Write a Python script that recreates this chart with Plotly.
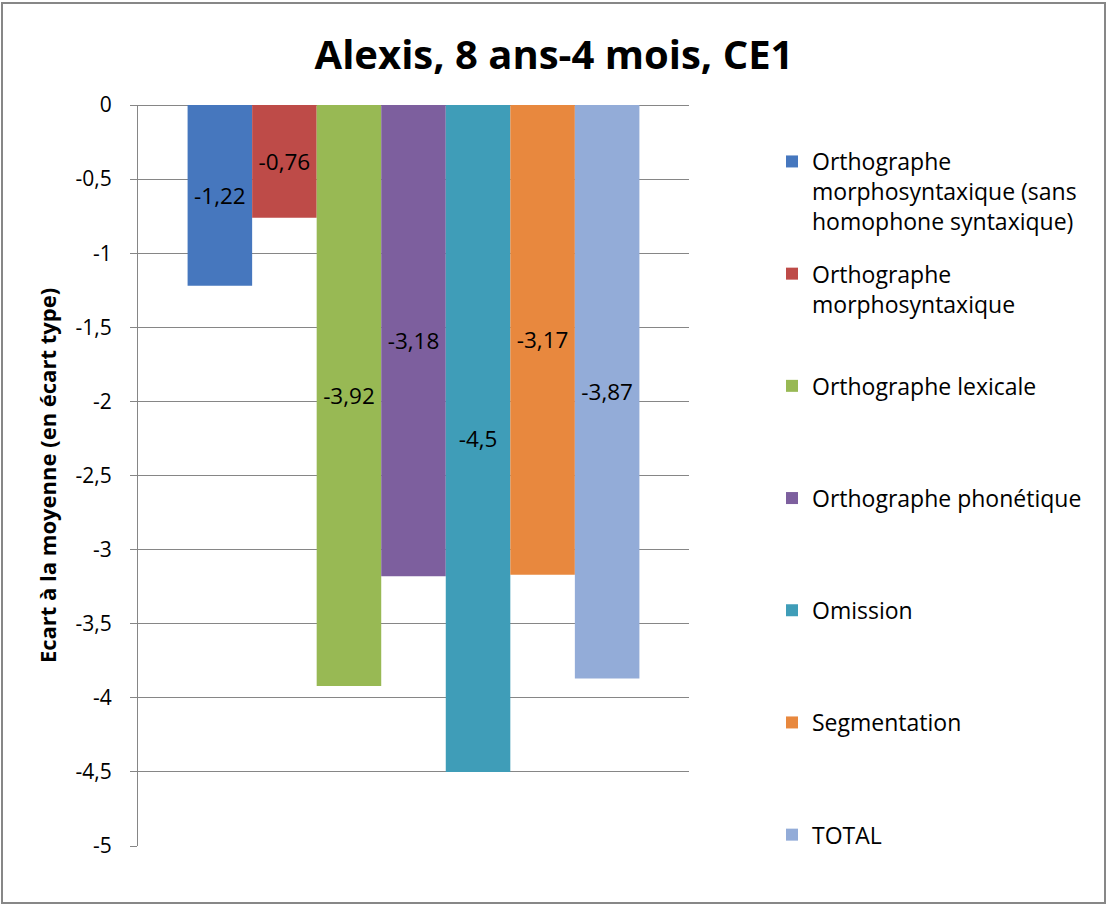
import plotly.graph_objects as go

# ---- data ----
series_names = [
    "Orthographe<br>morphosyntaxique (sans<br>homophone syntaxique)",
    "Orthographe<br>morphosyntaxique",
    "Orthographe lexicale",
    "Orthographe phonétique",
    "Omission",
    "Segmentation",
    "TOTAL",
]
series_values = [-1.22, -0.76, -3.92, -3.18, -4.5, -3.17, -3.87]
series_colors = ["#4677BE", "#BE4B48", "#98B954", "#7D5F9E", "#3F9DB8", "#E8883E", "#93ACD8"]
tick_values = [0, -0.5, -1, -1.5, -2, -2.5, -3, -3.5, -4, -4.5, -5]
tick_labels = ["0", "-0,5", "-1", "-1,5", "-2", "-2,5", "-3", "-3,5", "-4", "-4,5", "-5"]

FONT = "'Open Sans', Lato, sans-serif"
W, H = 1108, 906
ML, MR, MT, MB = 138, 419, 105, 60

fig = go.Figure()
n = len(series_names)
for i, (name, val, col) in enumerate(zip(series_names, series_values, series_colors)):
    lines = name.count("<br>") + 1
    legend_text = name + ("<br> " * (3 - lines) if i < n - 1 else "")
    fig.add_trace(go.Bar(
        x=[0], y=[val], name=legend_text,
        marker=dict(color=col, line=dict(width=0)),
        text=[("%g" % val).replace(".", ",")],
        textposition="inside", insidetextanchor="middle",
        textfont=dict(family=FONT, size=22.5, color="black"),
        constraintext="none",
        legendgroup="g%d" % i,
        hoverinfo="skip",
    ))

pw = W - ML - MR
ph = H - MT - MB

fig.update_layout(
    width=W, height=H,
    margin=dict(l=ML, r=MR, t=MT, b=MB, autoexpand=False),
    paper_bgcolor="white", plot_bgcolor="white",
    barmode="group", bargap=0.18, bargroupgap=0,
    font=dict(family=FONT, color="black"),
    title=dict(text="<b>Alexis, 8 ans-4 mois, CE1</b>", x=0.5, xref="container",
               y=1 - 55 / H, yref="container", yanchor="middle", xanchor="center",
               font=dict(family=FONT, size=40, color="black")),
    xaxis=dict(range=[-0.5, 0.5], showticklabels=False, showgrid=False, zeroline=False,
               showline=False, ticks=""),
    yaxis=dict(range=[-5, 0], tickvals=tick_values, ticktext=tick_labels,
               showgrid=True, gridcolor="#868686", gridwidth=1.2,
               zeroline=True, zerolinecolor="#868686", zerolinewidth=1.2,
               showline=True, linecolor="#868686", linewidth=1.2,
               ticks="outside", ticklen=7, tickcolor="#868686", tickwidth=1.2,
               ticklabelstandoff=14,
               tickfont=dict(family=FONT, size=21, color="black"),
               title=dict(text="<b>Ecart à la moyenne (en écart type)</b>", standoff=12,
                          font=dict(family=FONT, size=22, color="black"))),
    legend=dict(x=(772 - ML) / pw, xanchor="left", y=(H - MB - 140) / ph, yanchor="top",
                valign="top", tracegroupgap=19.5, font=dict(family=FONT, size=23, color="black"),
                bgcolor="rgba(0,0,0,0)", itemclick=False),
    showlegend=True,
)

# outer chart border
fig.add_shape(type="rect", xref="paper", yref="paper",
              x0=(2 - ML) / pw, x1=(W - 3 - ML) / pw,
              y0=-(MB - 3) / ph, y1=(ph + MT - 3) / ph,
              line=dict(color="#878787", width=2), fillcolor="rgba(0,0,0,0)", layer="below")

fig.write_html("out.html", config={"displayModeBar": False},
               post_script="document.body.style.margin='0';")
